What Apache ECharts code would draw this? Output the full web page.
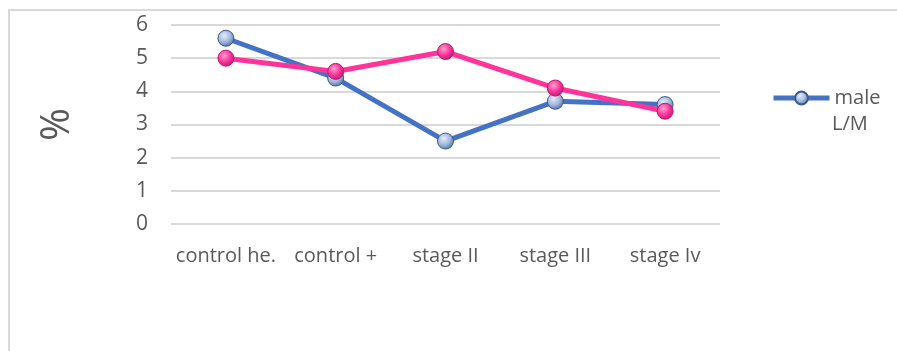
<!DOCTYPE html>
<html>
<head>
<meta charset="utf-8">
<script src="https://cdn.jsdelivr.net/npm/echarts@6/dist/echarts.min.js"></script>
<style>
  html, body { margin: 0; padding: 0; background: #fff; }
  #chart { width: 897px; height: 351px; }
</style>
</head>
<body>
<div id="chart"></div>
<script>
// Categories and values
const categories = ['control he.', 'control +', 'stage II', 'stage III', 'stage Iv'];
const maleLM = [5.6, 4.4, 2.5, 3.7, 3.6];
const femaleLM = [5.0, 4.6, 5.2, 4.1, 3.4];
const yTicks = [0, 1, 2, 3, 4, 5, 6];

const FONT = '"Open Sans", "Liberation Sans", sans-serif';
const TEXT = '#595959';

function sphere(light, mid, dark) {
  return {
    type: 'radial', x: 0.4, y: 0.35, r: 0.7,
    colorStops: [
      { offset: 0, color: light },
      { offset: 0.55, color: mid },
      { offset: 1, color: dark }
    ]
  };
}

const chart = echarts.init(document.getElementById('chart'), null, { renderer: 'canvas' });

chart.setOption({
  backgroundColor: '#fff',
  animation: false,
  graphic: [
    {
      type: 'rect',
      shape: { x: 9, y: 10, width: 1000, height: 500 },
      style: { fill: 'none', stroke: '#d9d9d9', lineWidth: 2 },
      silent: true
    },
    {
      // second line of the legend label
      type: 'text',
      left: 832,
      top: 114,
      style: { text: 'L/M', font: '20px ' + FONT, fill: TEXT },
      silent: true
    }
  ],
  grid: { left: 171, right: 177, top: 25, bottom: 127 },
  legend: {
    data: ['male L/M'],
    left: 771,
    top: 88,
    padding: 0,
    itemWidth: 56,
    itemHeight: 16,
    itemGap: 0,
    lineStyle: { width: 5 },
    formatter: function () { return 'male'; },
    textStyle: { fontFamily: FONT, fontSize: 20, color: TEXT }
  },
  xAxis: {
    type: 'category',
    data: categories,
    boundaryGap: true,
    axisLine: { show: false },
    axisTick: { show: false },
    axisLabel: { interval: 0, fontFamily: FONT, fontSize: 20, color: TEXT, margin: 22 }
  },
  yAxis: {
    type: 'value',
    min: yTicks[0],
    max: yTicks[yTicks.length - 1],
    interval: 1,
    name: '%',
    nameLocation: 'middle',
    nameGap: 93,
    nameRotate: 90,
    nameTextStyle: { fontFamily: FONT, fontSize: 40, color: TEXT },
    axisLine: { show: false },
    axisTick: { show: false },
    axisLabel: { fontFamily: FONT, fontSize: 21, color: TEXT, margin: 23 },
    splitLine: { lineStyle: { color: '#d9d9d9', width: 2 } }
  },
  series: [
    {
      name: 'male L/M',
      type: 'line',
      data: maleLM,
      symbol: 'circle',
      symbolSize: 16,
      lineStyle: { color: '#4472C4', width: 5 },
      itemStyle: {
        color: sphere('#e4ecf8', '#9fb6dc', '#4a6aa3'),
        borderColor: '#3d5a8c',
        borderWidth: 1
      },
      z: 2
    },
    {
      name: 'female L/M',
      type: 'line',
      data: femaleLM,
      symbol: 'circle',
      symbolSize: 16,
      lineStyle: { color: '#FF3399', width: 5 },
      itemStyle: {
        color: sphere('#ff9fd0', '#f7339a', '#b81a6c'),
        borderColor: '#c2186f',
        borderWidth: 1
      },
      z: 3
    }
  ]
});
</script>
</body>
</html>
